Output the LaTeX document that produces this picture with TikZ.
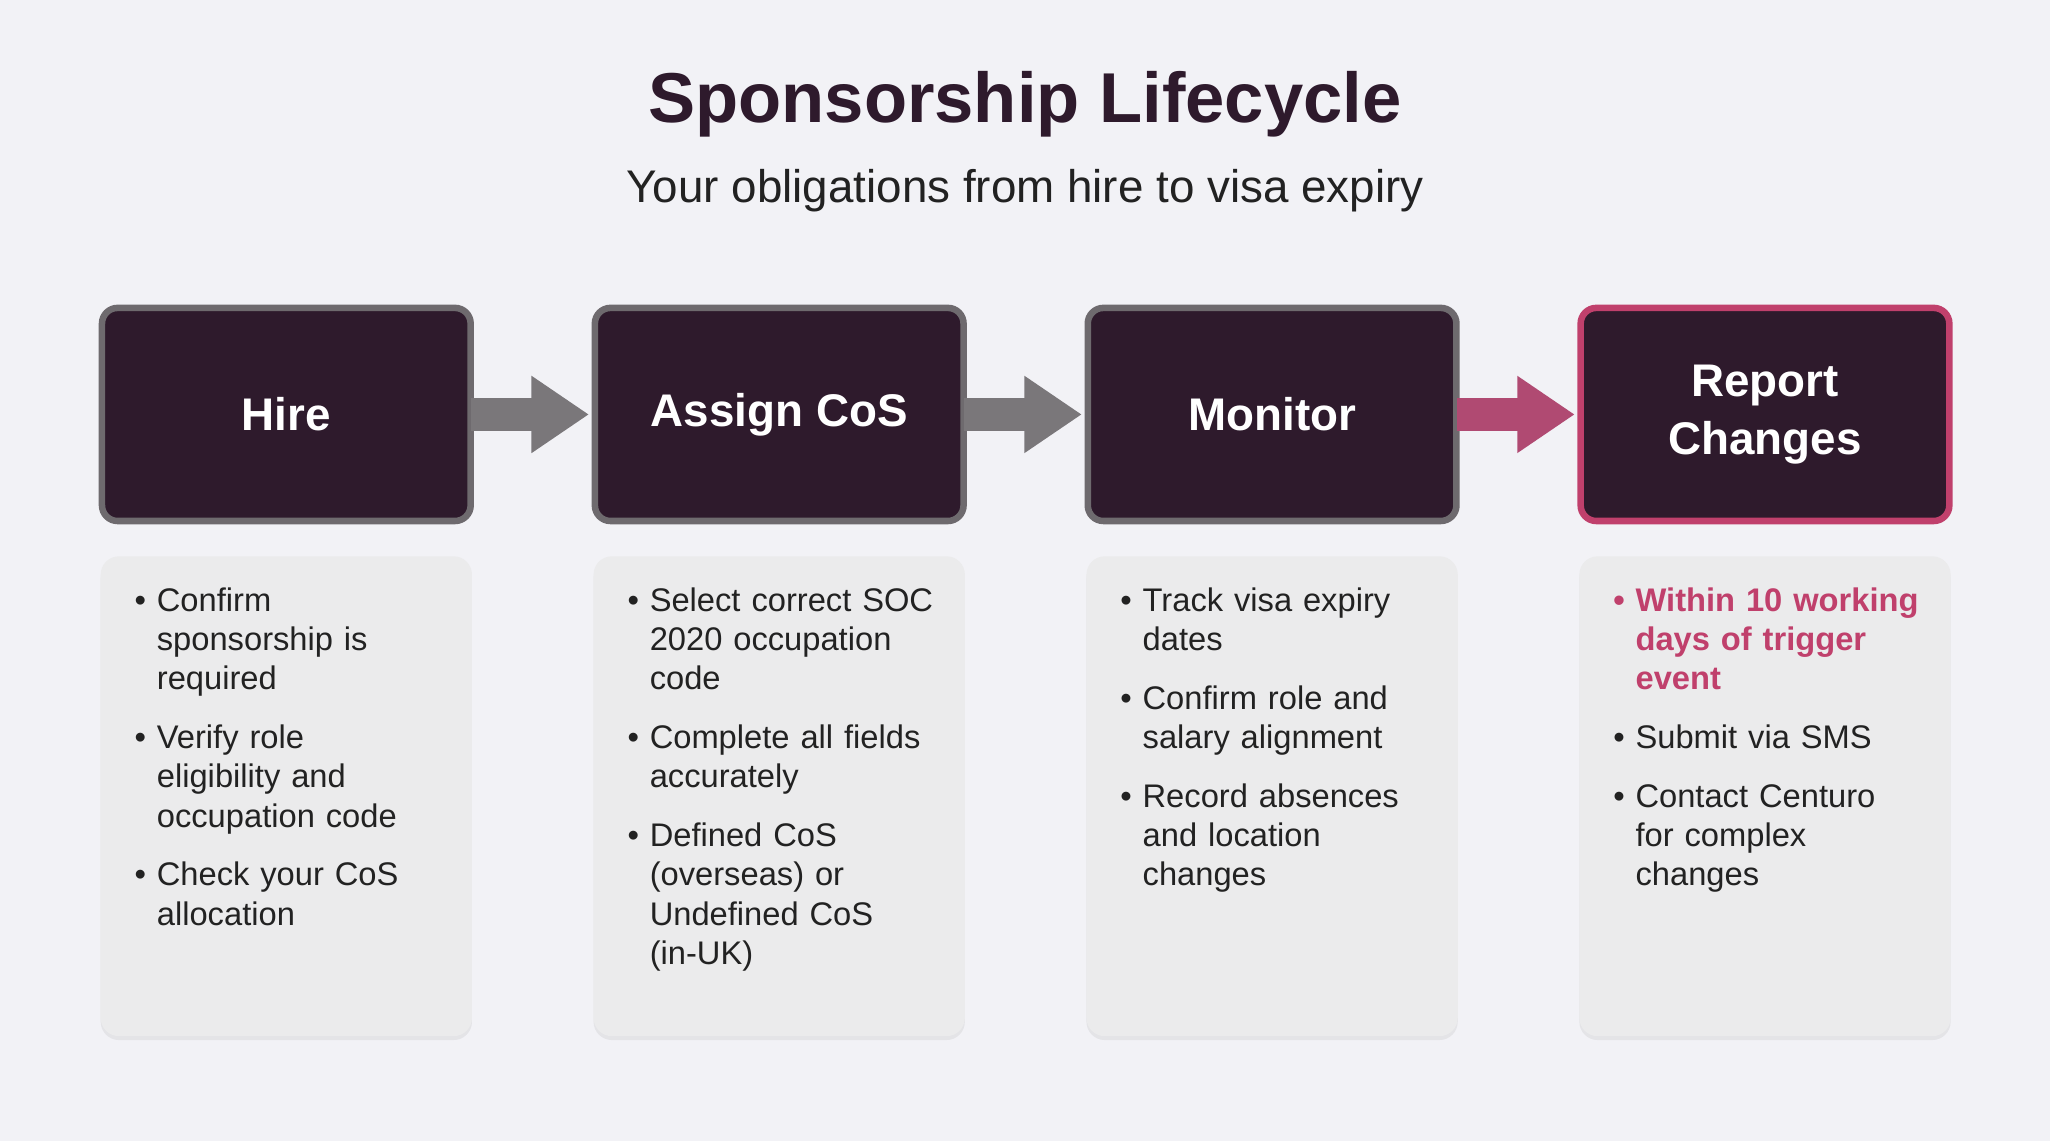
\documentclass[tikz,border=0pt]{standalone}
\usepackage{fontspec}
\setmainfont{Liberation Sans}
\usetikzlibrary{arrows.meta,shadows}
\definecolor{bg}{HTML}{F2F2F6}
\definecolor{dark}{HTML}{2E1A2C}
\definecolor{edge}{HTML}{6E6A6E}
\definecolor{hot}{HTML}{C0406C}
\definecolor{card}{HTML}{EBEBEC}
\definecolor{arr}{HTML}{7A777A}
\definecolor{parr}{HTML}{B04A72}
\definecolor{txt}{HTML}{222222}
\newcommand{\bul}[1]{{\hangindent=8.5pt\hangafter=1\noindent\makebox[8.5pt][l]{\textbullet}#1\par}\vspace{7.5pt}}
\begin{document}
\begin{tikzpicture}[x=0.5pt,y=-0.5pt,
  stagebox/.style={draw=edge,line width=2.5pt,rounded corners=6pt,fill=dark,minimum width=141pt,minimum height=81.5pt,text=white,font=\fontsize{17.5}{22}\selectfont\bfseries,align=center,inner sep=0pt},
  crd/.style={fill=card,rounded corners=7pt,minimum width=142pt,minimum height=183.5pt,drop shadow={opacity=0.12,shadow xshift=0pt,shadow yshift=-1.5pt}},
  body/.style={text width=125pt,font=\fontsize{12.5}{15}\selectfont,text=txt,anchor=north west,inner sep=0pt,align=left},
  con/.style={line width=12.5pt,-{Triangle[width=28pt,length=22pt]},shorten <=-1pt,shorten >=1pt}]
\fill[bg] (0,0) rectangle (1568,873);
\node[font=\fontsize{27}{30}\selectfont\bfseries,text=dark] (title) at (784,80) {Sponsorship Lifecycle};
\node[font=\fontsize{17.5}{20}\selectfont,text=txt] (sub) at (784,146) {Your obligations from hire to visa expiry};
\node[stagebox] (s1) at (219,317) {Hire};
\node[stagebox] (s2) at (596,317) {Assign CoS};
\node[stagebox] (s3) at (973,317) {Monitor};
\node[stagebox,draw=hot] (s4) at (1350,317) {Report\\Changes};
\draw[con,arr] (s1) -- (s2);
\draw[con,arr] (s2) -- (s3);
\draw[con,parr] (s3) -- (s4);
\foreach \i/\x in {1/219,2/596,3/973,4/1350}{\node[crd] (c\i) at (\x,609) {};}
\node[body] (t1) at ([xshift=13pt,yshift=-12pt]c1.north west) {\bul{Confirm\newline sponsorship is\newline required}\bul{Verify role\newline eligibility and\newline occupation code}\bul{Check your CoS\newline allocation}};
\node[body] (t2) at ([xshift=13pt,yshift=-12pt]c2.north west) {\bul{Select correct SOC\newline 2020 occupation\newline code}\bul{Complete all fields\newline accurately}\bul{Defined CoS\newline (overseas) or\newline Undefined CoS\newline (in-UK)}};
\node[body] (t3) at ([xshift=13pt,yshift=-12pt]c3.north west) {\bul{Track visa expiry\newline dates}\bul{Confirm role and\newline salary alignment}\bul{Record absences\newline and location\newline changes}};
\node[body] (t4) at ([xshift=13pt,yshift=-12pt]c4.north west) {{\color{hot}\bfseries\bul{Within 10 working\newline days of trigger\newline event}}\bul{Submit via SMS}\bul{Contact Centuro\newline for complex\newline changes}};
\end{tikzpicture}
\end{document}
